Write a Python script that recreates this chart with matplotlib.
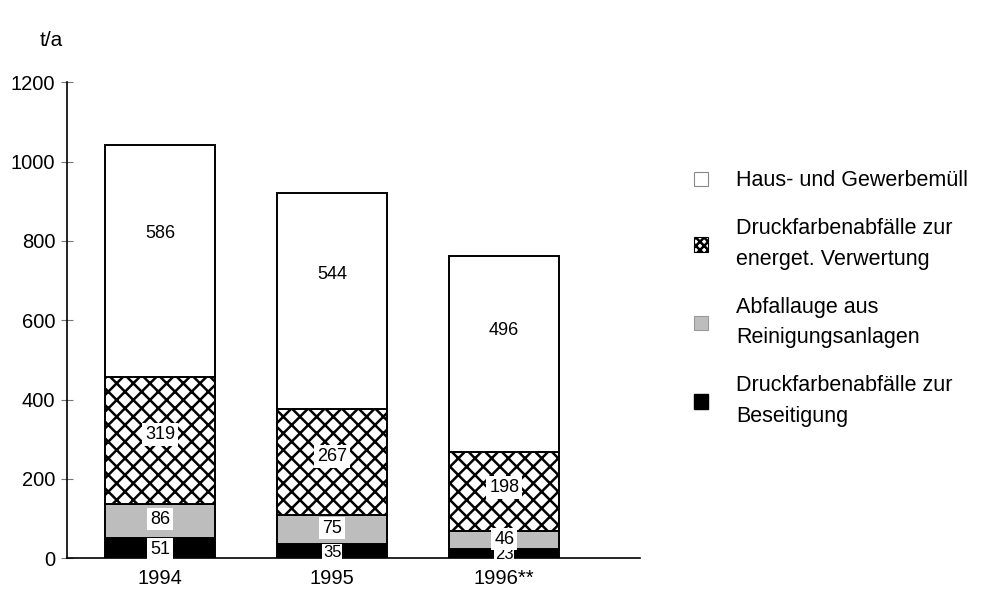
import matplotlib
matplotlib.use("Agg")
import matplotlib.pyplot as plt
import numpy as np
from matplotlib.patches import Patch

# data (t/a)
years       = ["1994", "1995", "1996**"]
beseitigung = [51, 35, 23]      # Druckfarbenabfälle zur Beseitigung
abfallauge  = [86, 75, 46]      # Abfallauge aus Reinigungsanlagen
energet     = [319, 267, 198]   # Druckfarbenabfälle zur energet. Verwertung
hausmuell   = [586, 544, 496]   # Haus- und Gewerbemüll

plt.rcParams["font.family"] = ["Liberation Sans", "DejaVu Sans"]
plt.rcParams["hatch.linewidth"] = 1.8

fig = plt.figure(figsize=(9.85, 5.92), dpi=100)
ax = fig.add_axes([0.068, 0.057, 0.582, 0.804])

x = np.arange(len(years))
w = 0.64

layers = [
    (beseitigung, dict(color="black", edgecolor="black")),
    (abfallauge,  dict(color="#bdbdbd", edgecolor="black")),
    (energet,     dict(color="white", edgecolor="black", hatch="xx")),
    (hausmuell,   dict(color="white", edgecolor="black")),
]

bottom = np.zeros(len(years))
label_frac = [0.45, 0.55, 0.55, 0.62]   # where the value box sits inside each segment
for (vals, style), frac in zip(layers, label_frac):
    vals = np.array(vals, dtype=float)
    ax.bar(x, vals, w, bottom=bottom, linewidth=1.4, **style)
    for xi, b, v in zip(x, bottom, vals):
        # thin segments (1996) get a tighter box and smaller digits
        thin = v * 0.4 <= 16
        ax.text(xi, b + v * frac, f"{int(v)}", ha="center", va="center",
                fontsize=12 if thin else 13,
                bbox=dict(facecolor="white", edgecolor="none", pad=0.4 if thin else 2))
    bottom += vals

ax.set_xlim(-0.54, 2.79)
ax.set_ylim(0, 1200)
ax.set_yticks(range(0, 1201, 200))
ax.set_xticks(x)
ax.set_xticklabels(years)
ax.tick_params(axis="y", direction="inout", length=9, color="#777777", labelsize=14.5, pad=4)
ax.tick_params(axis="x", length=0, labelsize=14.5, pad=8)
for s in ["top", "right"]:
    ax.spines[s].set_visible(False)
ax.spines["left"].set_linewidth(1.2)
ax.spines["bottom"].set_linewidth(1.2)

fig.text(0.04, 0.915, "t/a", fontsize=15, ha="left", va="bottom")

handles = [
    Patch(facecolor="white", edgecolor="#888888", linewidth=0.8),
    Patch(facecolor="white", edgecolor="black", hatch="xxxx", linewidth=0.8),
    Patch(facecolor="#bdbdbd", edgecolor="#999999", linewidth=0.8),
    Patch(facecolor="black", edgecolor="black"),
]
labels = [
    "Haus- und Gewerbemüll",
    "Druckfarbenabfälle zur\nenerget. Verwertung",
    "Abfallauge aus\nReinigungsanlagen",
    "Druckfarbenabfälle zur\nBeseitigung",
]
leg = fig.legend(handles, labels, loc="upper left", bbox_to_anchor=(0.685, 0.745),
                 frameon=False, fontsize=15.5, handlelength=0.65, handleheight=0.65,
                 handletextpad=1.3, labelspacing=1.25)
for t in leg.get_texts():
    t.set_linespacing(1.6)

fig.savefig("out.png", dpi=100)
